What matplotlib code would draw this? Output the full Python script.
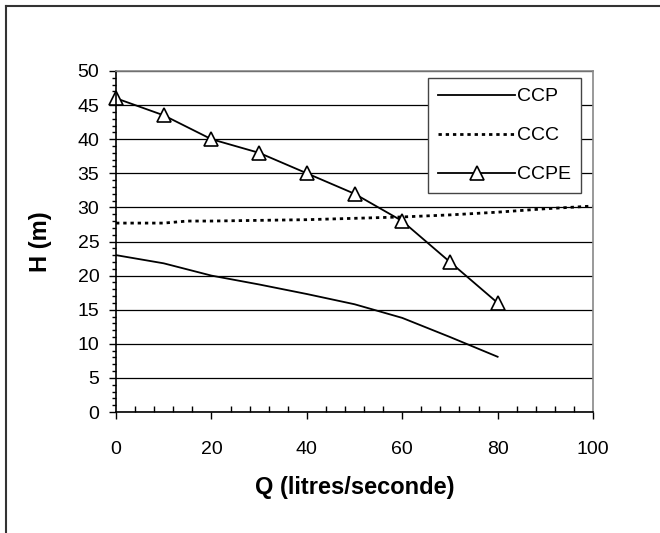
import matplotlib.pyplot as plt
from matplotlib.lines import Line2D
from matplotlib.ticker import MultipleLocator

plt.rcParams['font.family'] = ['Liberation Sans', 'DejaVu Sans']

# pump curves
q_ccp = [0, 10, 20, 30, 40, 50, 60, 70, 80]
h_ccp = [23, 21.8, 20, 18.7, 17.3, 15.8, 13.8, 11, 8.1]

q_ccc = [0, 10, 15, 20, 30, 40, 50, 60, 70, 80, 90, 100]
h_ccc = [27.7, 27.7, 28.0, 28.0, 28.1, 28.2, 28.4, 28.6, 28.9, 29.3, 29.8, 30.2]

q_ccpe = [0, 10, 20, 30, 40, 50, 60, 70, 80]
h_ccpe = [46, 43.5, 40, 38, 35, 32, 28, 22, 16]

fig = plt.figure(figsize=(6.6, 5.33), dpi=100)
ax = fig.add_axes([0.1758, 0.227, 0.7227, 0.6398])

# outer frame (only left and top visible)
fig.add_artist(Line2D([6 / 660, 6 / 660], [0, 1 - 6 / 533], color='#333333', lw=1.5))
fig.add_artist(Line2D([6 / 660, 1], [1 - 6 / 533, 1 - 6 / 533], color='#333333', lw=1.5))

ax.set_axisbelow(True)
ax.yaxis.grid(True, color='black', lw=0.9)

ax.plot(q_ccp, h_ccp, color='black', lw=1.3, label='CCP')
ax.plot(q_ccc, h_ccc, color='black', lw=2, linestyle=(0, (1.2, 1.4)), label='CCC')
ax.plot(q_ccpe, h_ccpe, color='black', lw=1.3, marker='^', markersize=10,
        markerfacecolor='white', markeredgecolor='black', markeredgewidth=1.2,
        label='CCPE', clip_on=False)

ax.set_xlim(0, 100)
ax.set_ylim(0, 50)
ax.xaxis.set_major_locator(MultipleLocator(20))
ax.xaxis.set_minor_locator(MultipleLocator(4))
ax.yaxis.set_major_locator(MultipleLocator(5))
ax.yaxis.set_minor_locator(MultipleLocator(1))
ax.tick_params(axis='x', which='major', direction='out', length=5, width=1, labelsize=14, pad=16)
ax.tick_params(axis='x', which='minor', direction='in', length=4, width=1)
ax.tick_params(axis='y', which='major', direction='out', length=5, width=1, labelsize=14, pad=7)
ax.tick_params(axis='y', which='minor', direction='out', length=3, width=1)

for s in ['left', 'bottom']:
    ax.spines[s].set_color('black')
    ax.spines[s].set_linewidth(1.2)
for s in ['top', 'right']:
    ax.spines[s].set_color('#888888')
    ax.spines[s].set_linewidth(1.2)

ax.set_xlabel('Q (litres/seconde)', fontsize=17, fontweight='bold', labelpad=13)
ax.set_ylabel('H (m)', fontsize=17, fontweight='bold', labelpad=18)

leg = ax.legend(loc='upper right', bbox_to_anchor=(0.975, 0.979), fontsize=14,
                frameon=True, fancybox=False, framealpha=1, edgecolor='#444444',
                handlelength=4.0, handletextpad=0.1, labelspacing=1.1,
                borderpad=0.5, numpoints=1, borderaxespad=0)
leg.get_frame().set_linewidth(1)

fig.savefig('out.png', dpi=100)
